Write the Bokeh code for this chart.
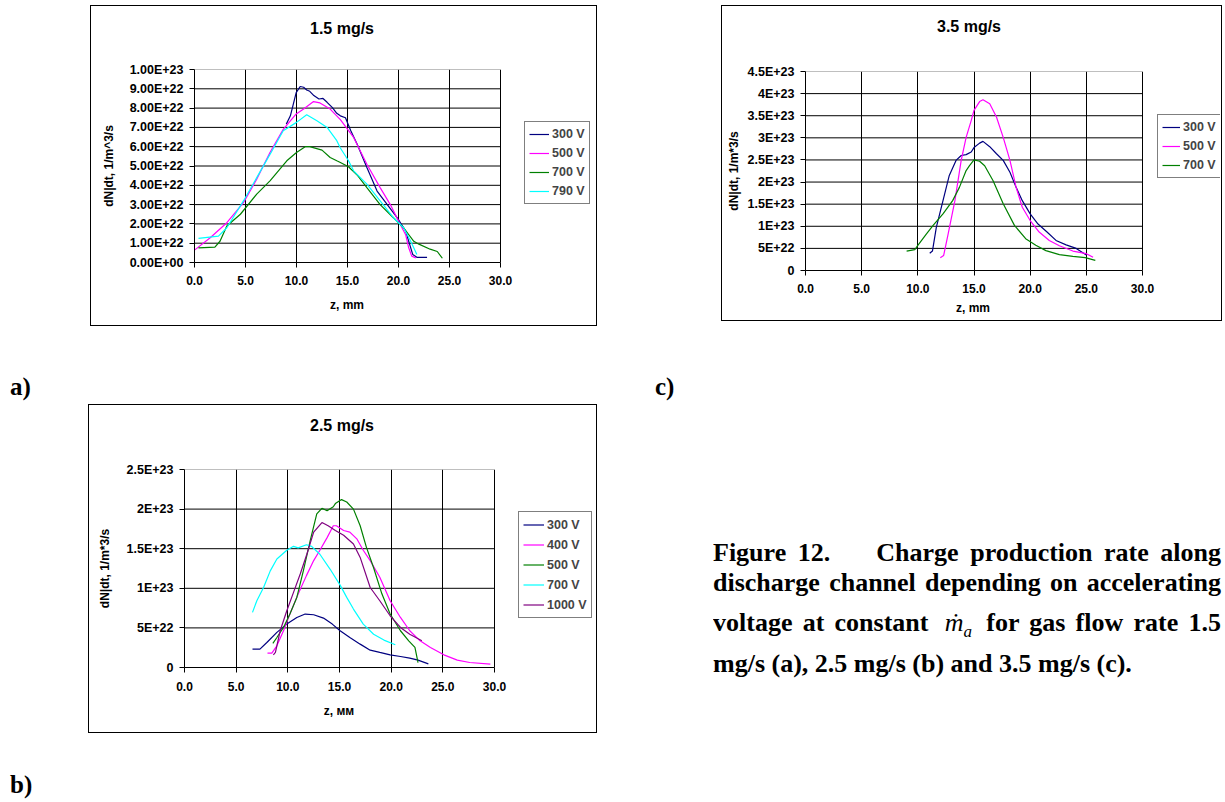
from bokeh.plotting import figure
from bokeh.models import (Range1d, FixedTicker, CustomJSTickFormatter, Legend,
                          LegendItem, Div, Spacer)
from bokeh.layouts import row, column
from bokeh.embed import file_html
from bokeh.resources import INLINE

# ------------------------------------------------------------------ data
Z_TICKS = [0, 5, 10, 15, 20, 25, 30]
Z_TICK_LABELS = ["0.0", "5.0", "10.0", "15.0", "20.0", "25.0", "30.0"]

# ---- panel a : 1.5 mg/s  (values in units of 1e22)
A_TITLE = "1.5 mg/s"
A_UNIT = 1e22
A_Y_TICKS = [i * 1e22 for i in range(11)]
A_Y_TICK_LABELS = ["0.00E+00", "1.00E+22", "2.00E+22", "3.00E+22", "4.00E+22",
                   "5.00E+22", "6.00E+22", "7.00E+22", "8.00E+22", "9.00E+22",
                   "1.00E+23"]
A_LABELS = ["300 V", "500 V", "700 V", "790 V"]
A_300_Z = [9.0, 9.4, 9.97, 10.36, 10.7, 11.0, 11.3, 11.7, 12.2, 12.6, 13.0, 13.5,
           13.95, 14.3, 14.8, 15.3, 15.95, 16.9, 17.9, 18.9, 19.9, 20.7, 21.0,
           21.4, 21.8, 22.8]
A_300_Y = [7.17, 7.6, 8.8, 9.12, 9.08, 8.94, 8.87, 8.65, 8.47, 8.5, 8.3, 8.04,
           7.73, 7.6, 7.5, 6.85, 6.13, 4.92, 3.7, 3.0, 2.3, 1.63, 1.1, 0.41,
           0.27, 0.27]
A_500_Z = [0.0, 1.54, 3.17, 4.8, 6.1, 7.4, 8.7, 9.97, 10.7, 11.67, 12.3, 13.3,
           14.3, 15.6, 16.9, 18.2, 19.2, 20.0, 20.7, 21.0, 21.3, 21.7]
A_500_Y = [0.64, 1.28, 2.06, 3.1, 4.32, 5.7, 6.9, 7.7, 7.95, 8.34, 8.27, 7.95,
           7.4, 6.48, 5.09, 3.88, 3.0, 2.15, 1.44, 0.76, 0.33, 0.24]
A_700_Z = [0.39, 2.0, 2.5, 3.17, 4.5, 6.1, 7.4, 9.05, 10.0, 10.85, 11.3, 12.5,
           13.3, 13.95, 14.3, 15.1, 16.0, 16.9, 18.2, 19.5, 20.5, 21.5, 22.0,
           23.1, 23.8, 24.3]
A_700_Y = [0.76, 0.8, 1.1, 1.89, 2.5, 3.54, 4.23, 5.27, 5.7, 6.0, 6.0, 5.82,
           5.44, 5.27, 5.18, 4.96, 4.5, 3.88, 3.0, 2.32, 1.8, 1.1, 0.95, 0.69,
           0.57, 0.22]
A_790_Z = [0.39, 2.35, 3.17, 4.8, 6.1, 7.4, 8.7, 10.0, 11.0, 12.0, 13.0, 13.95,
           14.3, 15.1, 15.6, 16.9, 18.2, 19.5, 20.5, 21.2, 21.8]
A_790_Y = [1.25, 1.37, 1.8, 3.19, 4.4, 5.6, 6.83, 7.26, 7.66, 7.35, 7.0, 6.31,
           5.93, 5.27, 4.75, 4.06, 3.19, 2.32, 1.8, 1.1, 0.42]

# ---- panel b : 2.5 mg/s  (values in units of 1e22)
B_TITLE = "2.5 mg/s"
B_UNIT = 1e22
B_Y_TICKS = [i * 5e22 for i in range(6)]
B_Y_TICK_LABELS = ["0", "5E+22", "1E+23", "1.5E+23", "2E+23", "2.5E+23"]
B_LABELS = ["300 V", "400 V", "500 V", "700 V", "1000 V"]
B_300_Z = [6.58, 7.3, 7.97, 8.94, 9.9, 10.87, 11.68, 12.5, 13.45, 14.3, 15.06,
           16.0, 17.0, 17.97, 18.9, 19.9, 20.9, 21.8, 22.6, 23.6]
B_300_Y = [2.32, 2.32, 3.16, 4.43, 5.48, 6.32, 6.75, 6.66, 6.24, 5.48, 4.64,
           3.79, 2.95, 2.19, 1.9, 1.6, 1.39, 1.18, 0.93, 0.45]
B_400_Z = [8.03, 8.45, 8.94, 9.58, 10.2, 11.0, 11.8, 12.5, 13.1, 13.8, 14.4,
           14.7, 15.4, 16.0, 16.7, 17.3, 17.97, 18.9, 19.9, 20.9, 21.8, 22.8,
           23.8, 25.1, 26.4, 27.6, 29.6]
B_400_Y = [1.81, 1.81, 2.74, 4.64, 6.75, 9.27, 11.6, 13.5, 14.8, 16.4, 17.9,
           17.9, 17.3, 17.1, 16.2, 14.8, 13.5, 11.4, 8.43, 6.32, 4.64, 3.37,
           2.53, 1.6, 0.93, 0.63, 0.42]
B_500_Z = [8.55, 8.94, 9.58, 10.2, 10.87, 11.5, 12.16, 12.8, 13.3, 13.8, 14.4,
           14.6, 15.2, 15.7, 16.35, 17.0, 17.6, 18.3, 19.1, 19.9, 20.9, 21.7,
           22.3, 22.6]
B_500_Y = [3.04, 3.79, 5.06, 6.75, 8.85, 12.2, 16.0, 19.4, 20.1, 19.8, 20.3,
           20.7, 21.2, 20.9, 20.0, 17.9, 15.2, 12.6, 9.3, 6.75, 4.64, 3.37,
           2.53, 0.63]
B_700_Z = [6.58, 7.0, 7.65, 8.3, 8.94, 9.9, 10.55, 11.0, 11.8, 12.3, 13.1, 14.1,
           15.06, 15.7, 16.35, 17.3, 18.3, 19.3, 20.4]
B_700_Y = [6.96, 8.43, 10.1, 12.2, 13.7, 14.8, 15.3, 15.1, 15.5, 15.3, 14.3,
           12.4, 10.4, 8.85, 7.38, 5.48, 4.2, 3.46, 2.87]
B_1000_Z = [8.6, 8.8, 9.26, 9.9, 10.55, 11.2, 11.84, 12.5, 13.3, 13.9, 14.6,
            15.4, 16.35, 17.0, 17.97, 18.9, 19.9, 20.9, 21.8, 22.97]
B_1000_Y = [1.6, 1.9, 4.64, 7.17, 9.49, 11.8, 14.3, 17.1, 18.3, 17.9, 17.3,
            16.7, 15.6, 13.9, 10.1, 8.43, 6.53, 5.06, 4.2, 3.37]

# ---- panel c : 3.5 mg/s  (values in units of 1e23)
C_TITLE = "3.5 mg/s"
C_UNIT = 1e23
C_Y_TICKS = [i * 5e22 for i in range(10)]
C_Y_TICK_LABELS = ["0", "5E+22", "1E+23", "1.5E+23", "2E+23", "2.5E+23",
                   "3E+23", "3.5E+23", "4E+23", "4.5E+23"]
C_LABELS = ["300 V", "500 V", "700 V"]
C_300_Z = [11.06, 11.3, 11.65, 12.24, 12.8, 13.4, 13.86, 14.3, 14.75, 15.0,
           15.5, 15.8, 16.4, 17.0, 17.6, 18.2, 18.75, 19.3, 20.0, 20.7, 21.5,
           22.3, 23.2, 24.1, 25.0]
C_300_Y = [0.39, 0.44, 0.98, 1.58, 2.15, 2.49, 2.6, 2.62, 2.68, 2.78, 2.88,
           2.92, 2.8, 2.64, 2.49, 2.22, 1.88, 1.58, 1.28, 1.05, 0.87, 0.68,
           0.58, 0.5, 0.35]
C_500_Z = [12.0, 12.3, 12.7, 13.3, 13.86, 14.3, 14.75, 15.0, 15.5, 15.8, 16.4,
           17.0, 17.6, 18.2, 18.75, 19.3, 20.0, 20.8, 21.7, 22.6, 23.8, 25.0,
           25.6]
C_500_Y = [0.29, 0.34, 0.83, 1.58, 2.49, 3.01, 3.39, 3.62, 3.82, 3.86, 3.77,
           3.47, 3.01, 2.49, 1.88, 1.43, 1.13, 0.87, 0.68, 0.56, 0.44, 0.38,
           0.3]
C_700_Z = [9.0, 9.73, 10.0, 10.77, 11.36, 12.24, 13.1, 13.7, 14.3, 14.6, 15.0,
           15.5, 15.95, 16.7, 17.6, 18.6, 19.6, 20.5, 21.4, 22.6, 23.8, 24.9,
           25.8]
C_700_Y = [0.44, 0.47, 0.57, 0.83, 1.02, 1.28, 1.58, 1.88, 2.26, 2.37, 2.5,
           2.47, 2.37, 2.03, 1.51, 1.02, 0.72, 0.57, 0.45, 0.36, 0.32, 0.29,
           0.23]

NAVY, MAGENTA, GREEN, CYAN, PURPLE = "#000080", "#FF00FF", "#008000", "#00FFFF", "#800080"

CAPTION_LINES = [
    "Figure 12.&nbsp;&nbsp;&nbsp; Charge production rate along",
    "discharge channel depending on accelerating",
    "voltage at constant <span style=\"font-weight:normal;font-style:italic;"
    "margin:0 4px 0 6px\">\u1e41<sub style=\"font-size:17px\">a</sub></span> "
    "for gas flow rate 1.5",
    "mg/s (a), 2.5 mg/s (b) and 3.5 mg/s (c).",
]

FONT = "Liberation Sans"
Z0 = (0, 0, 0, 0)


def lookup_formatter(tick_values, tick_labels):
    return CustomJSTickFormatter(
        args=dict(tv=list(tick_values), tl=list(tick_labels)),
        code="""
        for (let i = 0; i < tv.length; i++) {
          if (Math.abs(tv[i] - tick) <= 1e-9 * Math.max(1, Math.abs(tv[i])))
            return tl[i];
        }
        return "";
        """)


def text_div(text, width, height, cx, pad_top, size):
    html = (f'<div style="position:relative;width:{width}px;height:{height}px;">'
            f'<div style="position:absolute;left:{cx}px;top:{pad_top}px;'
            f'transform:translateX(-50%);white-space:nowrap;font-family:\'{FONT}\';'
            f'font-weight:bold;font-size:{size}px;line-height:{size}px;color:#000;">'
            f'{text}</div></div>')
    return Div(text=html, width=width, height=height, margin=Z0)


def make_panel(title, y_ticks, y_labels, y_label, x_label, series, unit,
               box_w, box_h, title_h, left, top, frame_h, bottom, grid_w,
               title_cx, title_pad, xlab_cx, xlab_pad,
               ylab_standoff, xtick_standoff, legend_loc,
               legend_glyph_w, legend_row_h, legend_pad):
    right = 2
    fig_h = top + frame_h + bottom
    xlab_h = box_h - title_h - fig_h
    frame_w = box_w - left - right
    # the frame also holds the legend: the z range reaches past 30 so that
    # the 0..30 grid occupies grid_w pixels of it
    z_end = Z_TICKS[-1] * frame_w / grid_w
    p = figure(width=box_w, height=fig_h, title=None,
               x_range=Range1d(Z_TICKS[0], z_end),
               y_range=Range1d(y_ticks[0], y_ticks[-1]),
               output_backend="svg", toolbar_location=None,
               min_border_left=left, min_border_right=right,
               min_border_top=top, min_border_bottom=bottom,
               background_fill_color="white", border_fill_color=None, margin=Z0)
    p.outline_line_color = None

    # grid: vertical lines from the z ticker, horizontal ones limited to 0..30
    p.xgrid.grid_line_color = "#000000"
    p.xgrid.grid_line_width = 1
    p.ygrid.grid_line_color = None
    n = len(y_ticks)
    p.segment(x0=[Z_TICKS[0]] * n, x1=[Z_TICKS[-1]] * n, y0=y_ticks, y1=y_ticks,
              line_color=["#000000"] * (n - 1) + ["#808080"], line_width=1)

    p.xaxis.ticker = FixedTicker(ticks=Z_TICKS)
    p.xaxis.formatter = lookup_formatter(Z_TICKS, Z_TICK_LABELS)
    p.xaxis.bounds = (Z_TICKS[0], Z_TICKS[-1])
    p.yaxis.ticker = FixedTicker(ticks=y_ticks)
    p.yaxis.formatter = lookup_formatter(y_ticks, y_labels)
    p.yaxis.axis_label = y_label
    for ax in (p.xaxis, p.yaxis):
        ax.axis_line_color = "#000000"
        ax.major_tick_line_color = "#000000"
        ax.major_tick_out = 5
        ax.major_tick_in = 0
        ax.minor_tick_line_color = None
        ax.major_label_text_font = FONT
        ax.major_label_text_font_style = "bold"
        ax.major_label_text_font_size = "12px"
        ax.major_label_text_color = "#000000"
        ax.axis_label_text_font = FONT
        ax.axis_label_text_font_style = "bold"
        ax.axis_label_text_font_size = "12px"
        ax.axis_label_text_color = "#000000"
    p.yaxis.major_label_text_font_size = "12.5px"
    p.yaxis.major_label_standoff = 6
    p.yaxis.axis_label_standoff = ylab_standoff
    p.xaxis.major_label_standoff = xtick_standoff

    items = []
    for label, zs, ys, color in series:
        r = p.line(zs, [v * unit for v in ys], line_color=color, line_width=1.2)
        items.append(LegendItem(label=label, renderers=[r]))
    legend = Legend(items=items, location=legend_loc)
    legend.border_line_color = "#000000"
    legend.border_line_width = 1
    legend.background_fill_color = "white"
    legend.background_fill_alpha = 1
    legend.label_text_font = FONT
    legend.label_text_font_style = "bold"
    legend.label_text_font_size = "12.5px"
    legend.glyph_width = legend_glyph_w
    legend.glyph_height = legend_row_h
    legend.label_height = legend_row_h
    legend.label_standoff = 3
    legend.spacing = 3
    legend.padding = legend_pad
    legend.margin = 0
    p.add_layout(legend)

    title_div = text_div(title, box_w, title_h, title_cx, title_pad, 16)
    xlab_div = text_div(x_label, box_w, xlab_h, xlab_cx, xlab_pad, 12)
    return column(title_div, p, xlab_div, width=box_w, height=box_h, margin=Z0,
                  styles={"box-shadow": "inset 0 0 0 1px #000000"})


pa = make_panel(A_TITLE, A_Y_TICKS, A_Y_TICK_LABELS, "dN|dt, 1/m^3/s", "z, mm",
                [(A_LABELS[0], A_300_Z, A_300_Y, NAVY),
                 (A_LABELS[1], A_500_Z, A_500_Y, MAGENTA),
                 (A_LABELS[2], A_700_Z, A_700_Y, GREEN),
                 (A_LABELS[3], A_790_Z, A_790_Y, CYAN)],
                A_UNIT, 507, 321, 40, 104, 24, 193, 30, 306,
                252, 16, 257, 7, 11, 8, (330, 58), 20, 16, 4)

pc = make_panel(C_TITLE, C_Y_TICKS, C_Y_TICK_LABELS, "dN|dt, 1/m*3/s", "z, mm",
                [(C_LABELS[0], C_300_Z, C_300_Y, NAVY),
                 (C_LABELS[1], C_500_Z, C_500_Y, MAGENTA),
                 (C_LABELS[2], C_700_Z, C_700_Y, GREEN)],
                C_UNIT, 501, 316, 40, 84, 26, 199, 30, 337,
                248, 14, 252, 2, 4, 8, (352, 92), 18, 16, 4)

pb = make_panel(B_TITLE, B_Y_TICKS, B_Y_TICK_LABELS, "dN|dt, 1/m*3/s", "z, мм",
                [(B_LABELS[0], B_300_Z, B_300_Y, NAVY),
                 (B_LABELS[1], B_400_Z, B_400_Y, MAGENTA),
                 (B_LABELS[2], B_500_Z, B_500_Y, GREEN),
                 (B_LABELS[3], B_700_Z, B_700_Y, CYAN),
                 (B_LABELS[4], B_1000_Z, B_1000_Y, PURPLE)],
                B_UNIT, 509, 329, 40, 96, 25, 198, 30, 310,
                254, 14, 251, 8, 12, 9, (334, 49), 21, 17, 4)

LABEL_STYLE = ("font-family:'Liberation Serif';font-weight:bold;font-size:25px;"
               "line-height:25px;color:#000;")


def panel_label(text, pad_top, height):
    return Div(text=f'<div style="padding-top:{pad_top}px;{LABEL_STYLE}">{text}</div>',
               width=40, height=height, margin=Z0)


# caption block
tops = [134, 164, 204, 245]
parts = []
for i, (line, t) in enumerate(zip(CAPTION_LINES, tops)):
    just = "text-align:justify;text-align-last:justify;" if i < 3 else "text-align:left;"
    parts.append(
        f'<div style="position:absolute;left:0;top:{t}px;width:508px;{just}'
        f"font-family:'Liberation Serif';font-weight:bold;font-size:26px;"
        f'line-height:30px;color:#000;white-space:normal;">{line}</div>')
caption_html = ('<div style="position:relative;width:512px;height:329px;overflow:hidden;">'
                + "".join(parts) + "</div>")
caption = Div(text=caption_html, width=512, height=329, margin=Z0)

layout = column(
    Spacer(width=1225, height=5, margin=Z0),
    row(Spacer(width=90, height=321, margin=Z0), pa,
        Spacer(width=124, height=321, margin=Z0), pc),
    row(Spacer(width=10, height=78, margin=Z0), panel_label("a)", 48, 78),
        Spacer(width=605, height=78, margin=Z0), panel_label("c)", 48, 78)),
    row(Spacer(width=88, height=329, margin=Z0), pb,
        Spacer(width=116, height=329, margin=Z0), caption),
    row(Spacer(width=10, height=69, margin=Z0), panel_label("b)", 39, 69)),
)

html = file_html(layout, INLINE, title="Figure 12")
html = html.replace("<head>", "<head><style>html,body{margin:0;padding:0;background:#fff;overflow:hidden;}</style>", 1)
open("out.html", "w").write(html)
